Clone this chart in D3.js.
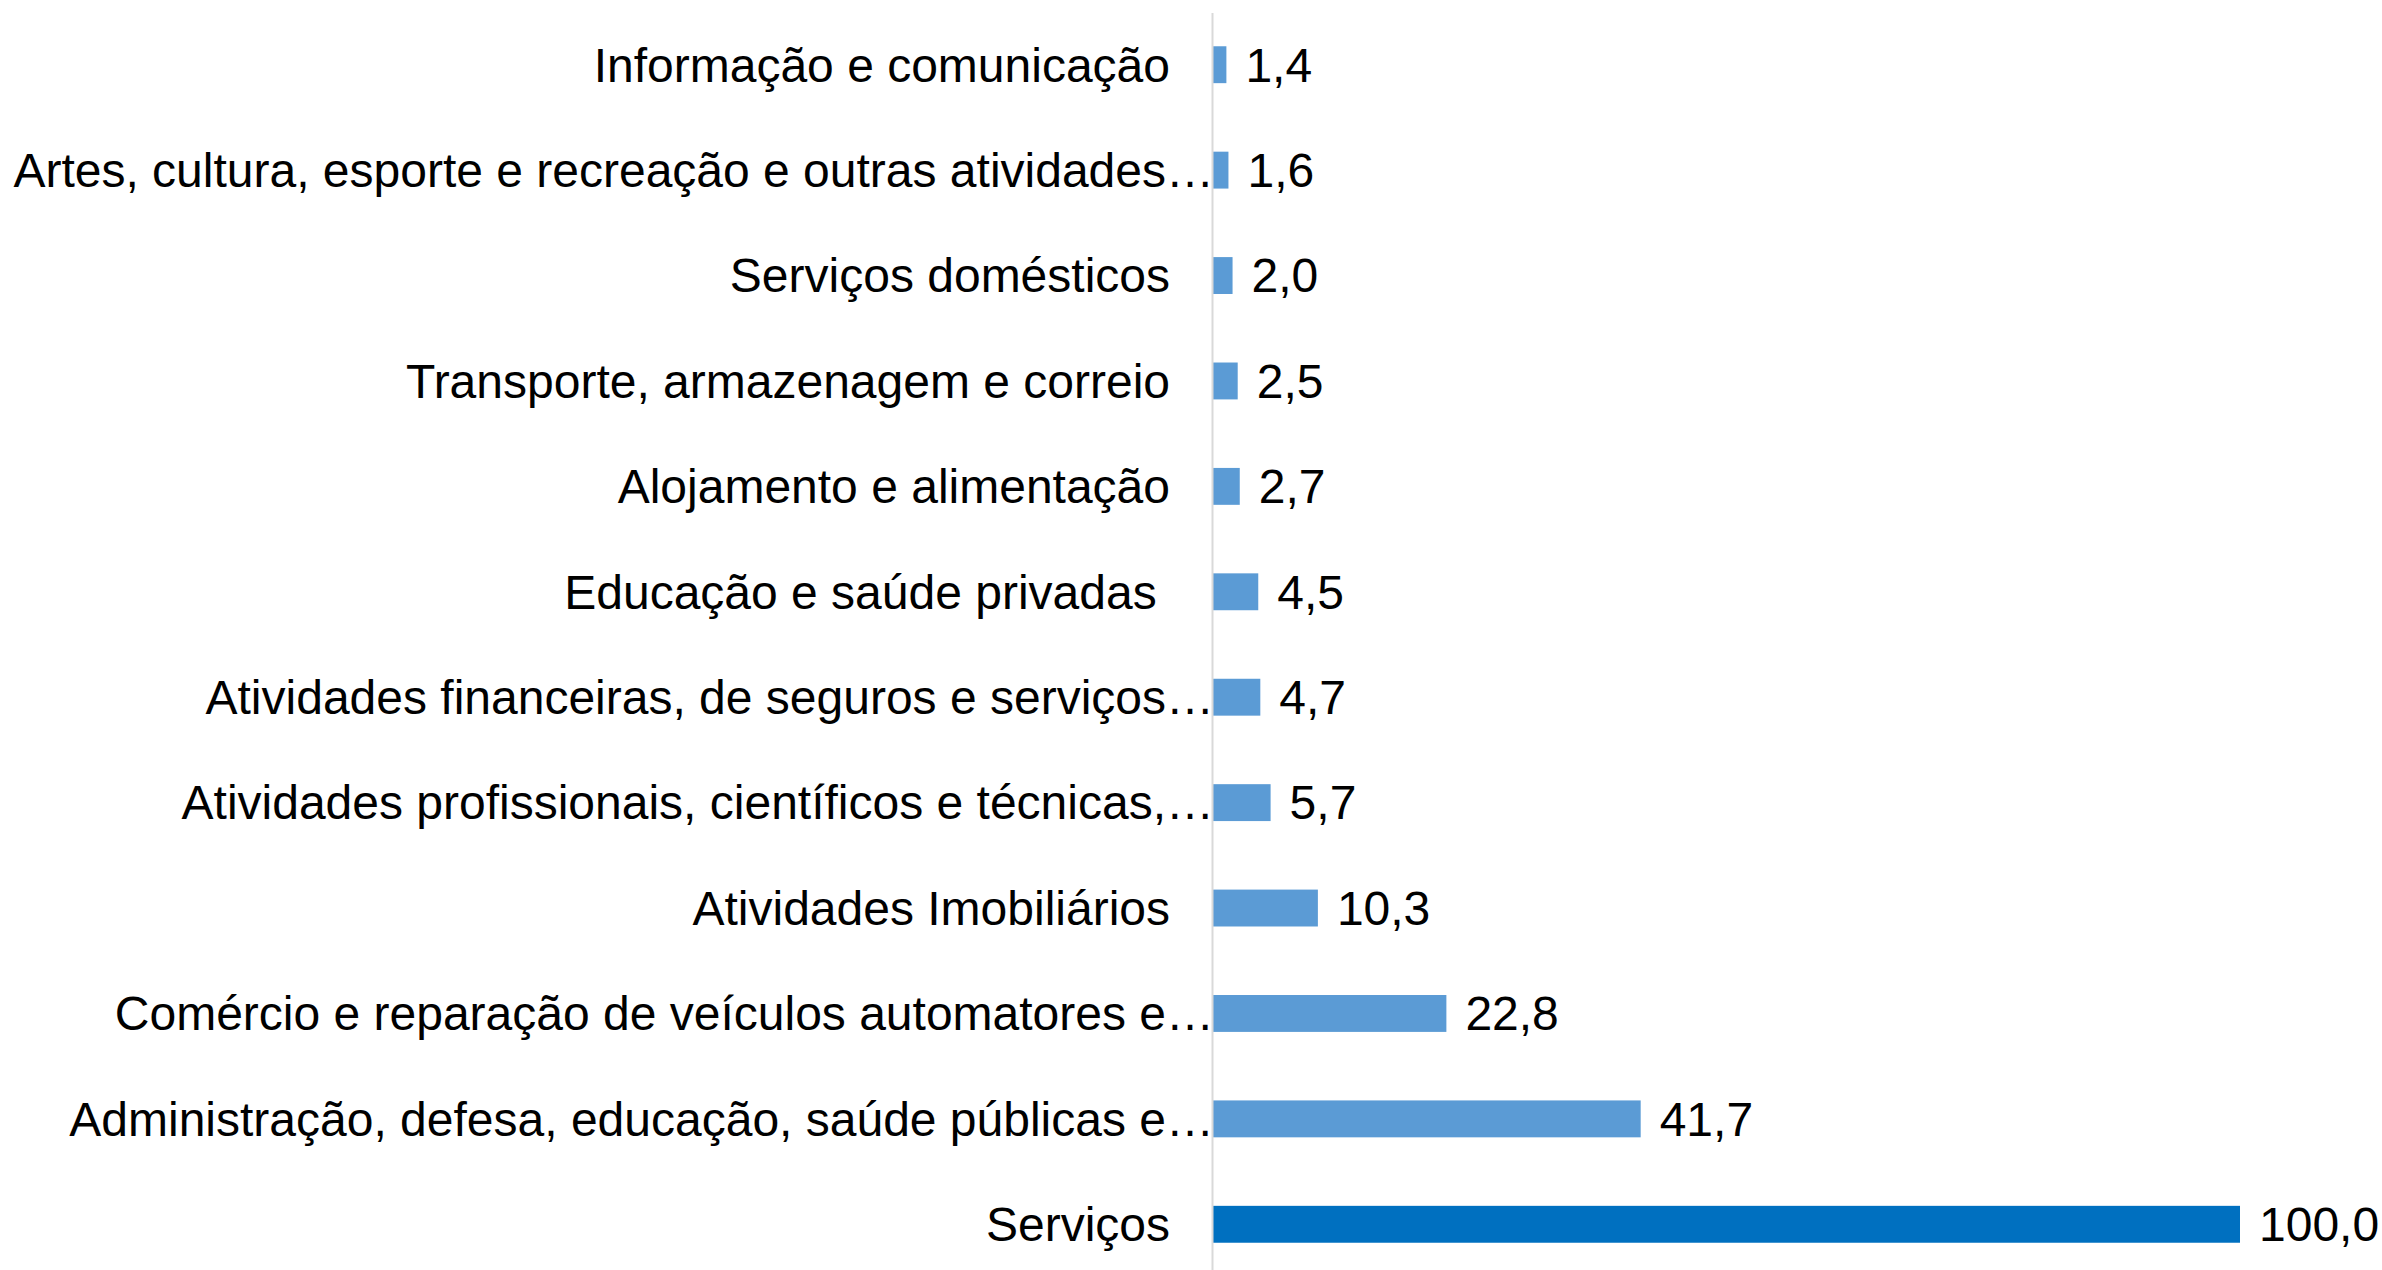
<!DOCTYPE html>
<html>
<head>
<meta charset="utf-8">
<script src="https://cdn.jsdelivr.net/npm/d3@7"></script>
<style>
  body { margin: 0; background: #fff; }
  text { font-family: "Liberation Sans", Arial, sans-serif; }
</style>
</head>
<body>
<svg id="chart" width="2382" height="1270"></svg>
<script>
const categories = [
  "Informação e comunicação",
  "Artes, cultura, esporte e recreação e outras atividades…",
  "Serviços domésticos",
  "Transporte, armazenagem e correio",
  "Alojamento e alimentação",
  "Educação e saúde privadas ",
  "Atividades financeiras, de seguros e serviços…",
  "Atividades profissionais, científicos e técnicas,…",
  "Atividades Imobiliários",
  "Comércio e reparação de veículos automatores e…",
  "Administração, defesa, educação, saúde públicas e…",
  "Serviços"
];
const values = [1.4, 1.6, 2.0, 2.5, 2.7, 4.5, 4.7, 5.7, 10.3, 22.8, 41.7, 100.0];
const totalCategory = "Serviços";

const svg = d3.select("#chart");
const axisX = 1212;

const data = categories.map((c, i) => ({ name: c, value: values[i] }));

const xScale = d3.scaleLinear().domain([0, 100]).range([axisX, 2240]);
const yScale = d3.scaleBand()
  .domain(categories)
  .range([12, 1277])
  .paddingInner(0.65)
  .paddingOuter(0.325);

const fmt = d3.formatLocale({ decimal: ",", thousands: ".", grouping: [3], currency: ["R$", ""] }).format(".1f");

// bars
svg.selectAll(".bar")
  .data(data)
  .enter()
  .append("rect")
  .attr("class", "bar")
  .attr("x", xScale(0))
  .attr("y", (d) => yScale(d.name))
  .attr("width", (d) => xScale(d.value) - xScale(0))
  .attr("height", yScale.bandwidth())
  .attr("fill", (d) => (d.name === totalCategory ? "#0070C0" : "#5B9BD5"));

// eixo vertical
svg.append("line")
  .attr("x1", axisX + 0.5)
  .attr("x2", axisX + 0.5)
  .attr("y1", 13)
  .attr("y2", 1270)
  .attr("stroke", "#D9D9D9")
  .attr("stroke-width", 2);

// rótulos das categorias
svg.selectAll(".cat")
  .data(data)
  .enter()
  .append("text")
  .attr("class", "cat")
  .attr("x", (d) => (d.name.endsWith("…") ? axisX + 2 : axisX - 42))
  .attr("y", (d) => yScale(d.name) + yScale.bandwidth() / 2)
  .attr("dy", "0.35em")
  .attr("text-anchor", "end")
  .attr("font-size", "48px")
  .style("white-space", "pre")
  .attr("fill", "#000")
  .text((d) => d.name);

// rótulos dos valores
svg.selectAll(".val")
  .data(data)
  .enter()
  .append("text")
  .attr("class", "val")
  .attr("x", (d) => xScale(d.value) + 19)
  .attr("y", (d) => yScale(d.name) + yScale.bandwidth() / 2)
  .attr("dy", "0.35em")
  .attr("font-size", "48px")
  .attr("fill", "#000")
  .text((d) => fmt(d.value));
</script>
</body>
</html>
